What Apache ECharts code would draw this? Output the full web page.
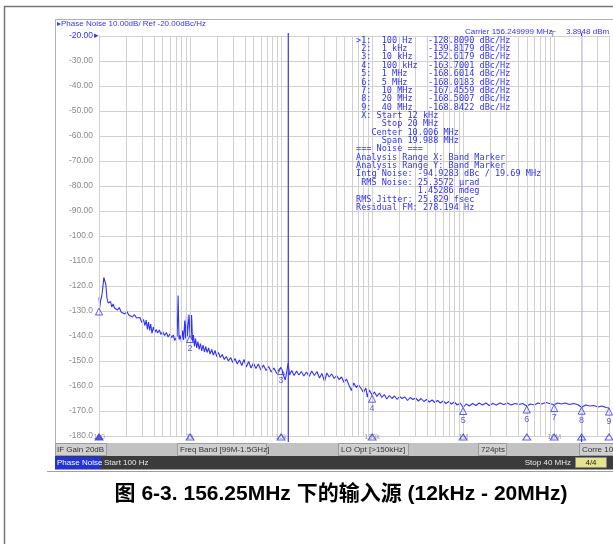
<!DOCTYPE html>
<html>
<head>
<meta charset="utf-8">
<script src="https://cdn.jsdelivr.net/npm/echarts@6/dist/echarts.min.js"></script>
<style>
html, body { margin: 0; padding: 0; background: #fff; }
#chart { width: 613px; height: 544px; }
</style>
</head>
<body>
<div id="chart"></div>
<script>
const freqHz = [
  100, 102, 104, 107, 110, 113, 116, 119, 122, 126, 130, 134, 138, 143, 148, 154, 160, 167, 175, 183,
  192, 203, 212, 222, 233, 245, 258, 270, 282, 295, 308, 320, 330, 340, 350, 360, 370, 382, 395, 410,
  425, 440, 460, 480, 500, 525, 550, 575, 600, 630, 655, 680, 705, 722, 732, 740, 748, 758, 780, 805,
  830, 850, 875, 895, 915, 935, 955, 975, 1000, 1020, 1040, 1065, 1090, 1120, 1150, 1185, 1220, 1260, 1300, 1345,
  1390, 1440, 1490, 1540, 1600, 1660, 1730, 1800, 1880, 1960, 2050, 2150, 2260, 2380, 2500, 2640, 2790, 2950, 3120, 3300,
  3490, 3700, 3920, 4150, 4400, 4680, 4970, 5290, 5630, 6000, 6400, 6830, 7300, 7800, 8350, 8950, 9500, 10000, 10500, 11100,
  11600, 11960, 12400, 13100, 13900, 14800, 15700, 16700, 17800, 19000, 20300, 21700, 23200, 24800, 26400, 28100, 30000, 31800, 33800, 36000,
  38300, 40800, 43400, 46200, 49200, 52300, 55600, 59200, 62900, 66900, 71100, 75600, 80400, 85500, 88500, 93000, 97000, 100000, 106000, 113000,
  120000, 128000, 136000, 145000, 155000, 165000, 176000, 188000, 200000, 214000, 229000, 245000, 262000, 280000, 300000, 322000, 345000, 370000, 397000, 425000,
  456000, 489000, 524000, 562000, 603000, 647000, 694000, 745000, 800000, 860000, 925000, 1000000, 1080000, 1170000, 1270000, 1380000, 1500000, 1630000, 1780000, 1940000,
  2120000, 2320000, 2540000, 2790000, 3060000, 3370000, 3710000, 4080000, 4500000, 5000000, 5500000, 6050000, 6650000, 7300000, 8050000, 8900000, 10000000, 10900000, 12000000, 13300000,
  14700000, 16300000, 18100000, 20000000, 22200000, 24600000, 27300000, 30300000, 33600000, 37000000, 40000000
]
const noiseDbc = [
  -124.5, -128.6, -125.8, -124.2, -120.8, -116.6, -116.4, -119.5, -124.6, -126.8, -127.6, -126.2, -128.4, -127.2, -128.8, -128.0, -129.6, -128.6, -130.4, -130.0,
  -131.2, -130.2, -131.6, -131.0, -132.4, -131.4, -132.8, -133.6, -132.6, -134.6, -133.4, -135.8, -133.6, -137.4, -134.4, -137.8, -135.2, -139.0, -136.4, -138.6,
  -137.4, -138.8, -137.6, -139.4, -138.2, -139.8, -138.6, -140.4, -139.2, -140.6, -139.6, -141.8, -142.6, -140.0, -131.0, -123.8, -133.0, -141.4, -139.8, -142.4,
  -137.8, -141.6, -133.8, -141.0, -131.2, -140.2, -135.6, -131.4, -139.8, -141.6, -131.6, -142.2, -139.6, -144.2, -141.0, -144.8, -142.2, -145.4, -143.0, -146.0,
  -143.6, -146.4, -144.2, -146.6, -144.8, -147.2, -145.4, -147.6, -145.8, -148.2, -146.6, -148.6, -147.4, -149.4, -148.2, -150.0, -148.6, -150.6, -149.0, -151.2,
  -149.6, -151.8, -149.4, -152.4, -150.2, -152.8, -150.8, -153.0, -151.2, -153.6, -151.6, -153.8, -152.2, -154.4, -152.8, -155.0, -153.4, -152.6, -155.2, -157.6,
  -153.8, -150.8, -155.6, -153.8, -155.8, -154.0, -155.6, -154.2, -156.0, -154.4, -156.2, -154.0, -155.8, -154.2, -156.8, -155.0, -158.2, -154.8, -156.4, -155.2,
  -157.0, -155.8, -157.4, -156.4, -158.6, -157.2, -159.6, -161.8, -158.8, -160.6, -159.6, -161.0, -162.6, -160.8, -164.4, -161.6, -162.8, -163.7, -162.4, -164.2,
  -162.8, -164.6, -163.4, -165.2, -163.8, -165.0, -164.0, -165.4, -164.2, -165.0, -164.4, -165.8, -164.6, -165.4, -164.8, -166.0, -165.0, -166.2, -165.4, -166.4,
  -165.6, -166.6, -165.8, -166.8, -166.0, -167.0, -166.2, -167.2, -166.4, -167.6, -166.8, -168.6, -167.2, -168.0, -167.0, -167.8, -166.8, -167.6, -166.8, -167.8,
  -167.0, -167.6, -166.8, -167.4, -166.8, -167.6, -167.0, -167.4, -167.0, -168.0, -167.2, -167.6, -166.8, -167.2, -166.6, -167.0, -167.5, -166.8, -167.2, -166.8,
  -167.4, -167.0, -167.4, -168.5, -167.6, -168.0, -167.8, -168.4, -168.0, -168.6, -168.8
]
const markerFreq = [100, 1000, 10000, 100000, 1000000, 5000000, 10000000, 20000000, 40000000]
const markerDbc = [-128.8090, -139.8179, -152.6179, -163.7001, -168.6014, -168.0183, -167.4559, -168.5007, -168.8422]
const markerFreqText = ['100 Hz', '1 kHz', '10 kHz', '100 kHz', '1 MHz', '5 MHz', '10 MHz', '20 MHz', '40 MHz']
const xTickLabels = ['100', '1k', '10k', '100k', '1M', '10M']
const bandEdges = [12000, 20000000]

const headerText = 'Phase Noise 10.00dB/ Ref -20.00dBc/Hz'
const bandInfo = [' X: Start 12 kHz', '     Stop 20 MHz', '   Center 10.006 MHz', '     Span 19.988 MHz']
const noiseInfo = [
  '=== Noise ===',
  'Analysis Range X: Band Marker',
  'Analysis Range Y: Band Marker',
  'Intg Noise: -94.9283 dBc / 19.69 MHz',
  ' RMS Noise: 25.3572 µrad',
  '            1.45286 mdeg',
  'RMS Jitter: 25.829 fsec',
  'Residual FM: 278.194 Hz'
]
const captionText = '图 6-3. 156.25MHz 下的输入源 (12kHz - 20MHz)'

const blue = '#3333f4'
const sans = '"Liberation Sans", Arial, sans-serif'

const trace = freqHz.map((f, i) => [f, noiseDbc[i]])

// log grid lines 1..9 per decade
const gridFreqs = []
for (let d = 100; d <= 10000000; d *= 10) {
  for (let k = 1; k <= 9; k++) {
    if (k * d <= 40000000) gridFreqs.push(k * d)
  }
}

const tableLines = markerFreq.map((f, i) =>
  (i === 0 ? '>' : ' ') + (i + 1) + ':  ' + markerFreqText[i].padEnd(9) + markerDbc[i].toFixed(4) + ' dBc/Hz'
).concat(bandInfo, noiseInfo)

function txt(x, y, text, fill, font, align) {
  return {
    type: 'text', x: x, y: y, z: 100,
    style: {
      text: text, fill: fill, font: font,
      align: align || 'left', textAlign: align || 'left',
      verticalAlign: 'middle', textVerticalAlign: 'middle'
    }
  }
}
function box(x, y, w, h, fill, stroke) {
  return {
    type: 'rect', z: 90,
    shape: { x: x, y: y, width: w, height: h },
    style: { fill: fill, stroke: stroke || null, lineWidth: 1 }
  }
}
function hline(x1, y1, x2, y2, color, w) {
  return {
    type: 'line', z: 95,
    shape: { x1: x1, y1: y1, x2: x2, y2: y2 },
    style: { stroke: color, lineWidth: w || 1 }
  }
}

const small = '8px ' + sans

const chart = echarts.init(document.getElementById('chart'))
chart.setOption({
  animation: false,
  backgroundColor: '#fff',
  grid: { left: 99, top: 36, width: 510, height: 400 },
  xAxis: {
    type: 'log',
    logBase: 10,
    min: 100,
    max: 40000000,
    axisLine: { show: false },
    axisTick: { show: false },
    splitLine: { show: false },
    axisLabel: {
      fontSize: 7,
      fontFamily: sans,
      color: '#9a9a9a',
      margin: -2,
      formatter: function (v) {
        const e = Math.log10(v)
        if (Math.abs(e - Math.round(e)) > 1e-6) return ''
        return xTickLabels[Math.round(e) - 2] || ''
      }
    }
  },
  yAxis: {
    type: 'value',
    min: -180,
    max: -20,
    interval: 10,
    axisLine: { show: true, lineStyle: { color: '#a8a8a8', width: 1 } },
    axisTick: { show: false },
    splitLine: { lineStyle: { color: '#d0d0d0', width: 1 } },
    axisLabel: {
      fontSize: 8.5,
      fontFamily: sans,
      margin: 6,
      color: function (v) {
        return Number(v) === -20 ? blue : '#8a8a8a'
      },
      formatter: function (v) {
        return v > -100 ? v.toFixed(2) : v.toFixed(1)
      }
    }
  },
  series: [
    {
      name: 'grid',
      type: 'line',
      data: [],
      z: 1,
      silent: true,
      markLine: {
        silent: true,
        symbol: ['none', 'none'],
        label: { show: false },
        lineStyle: { color: '#d0d0d0', width: 1, type: 'solid' },
        data: gridFreqs.map(f => ({ xAxis: f }))
      }
    },
    {
      name: 'Phase Noise',
      type: 'line',
      data: trace,
      z: 3,
      showSymbol: false,
      lineStyle: { color: blue, width: 1.1 }
    },
    {
      name: 'band start',
      type: 'line',
      clip: false,
      z: 4,
      showSymbol: false,
      data: [[bandEdges[0], -18.8], [bandEdges[0], -182.4]],
      lineStyle: { color: blue, width: 1.2 }
    },
    {
      name: 'band stop',
      type: 'line',
      clip: false,
      z: 4,
      showSymbol: false,
      data: [[bandEdges[1], -18.8], [bandEdges[1], -182.4]],
      lineStyle: { color: blue, width: 1.2 }
    },
    {
      name: 'markers',
      type: 'scatter',
      z: 5,
      symbol: 'triangle',
      symbolSize: [7, 7],
      symbolOffset: [0, '50%'],
      clip: false,
      itemStyle: { color: 'rgba(255,255,255,0)', borderColor: blue, borderWidth: 1 },
      label: {
        show: true,
        position: 'bottom',
        distance: 1,
        color: blue,
        fontSize: 9,
        fontFamily: sans,
        formatter: p => (p.dataIndex === 0 ? '' : String(p.dataIndex + 1))
      },
      data: markerFreq.map((f, i) => [f, markerDbc[i]])
    },
    {
      name: 'marker ticks',
      type: 'scatter',
      z: 5,
      clip: false,
      symbol: 'triangle',
      symbolSize: [8, 6],
      itemStyle: { color: 'rgba(255,255,255,0)', borderColor: blue, borderWidth: 1 },
      data: markerFreq.map((f, i) => i === 0
        ? { value: [f, -180.4], itemStyle: { color: blue } }
        : [f, -180.4])
    }
  ],
  graphic: [
    // page frame
    hline(4, 6.5, 613, 6.5, '#777', 1.5),
    hline(4.5, 6, 4.5, 544, '#777', 1.5),
    hline(55.5, 19.5, 613, 19.5, '#b0b0b0'),
    hline(55.5, 19.5, 55.5, 443, '#b0b0b0'),
    hline(47, 471.5, 613, 471.5, '#a0a0a0'),
    txt(57, 24, '▸' + headerText, blue, small),
    txt(94, 36, '▸', blue, '9px ' + sans),
    txt(465, 31.5, 'Carrier 156.249999 MHz', blue, small),
    txt(550, 31.5, '┬', blue, small),
    txt(566, 31.5, '3.8948 dBm', blue, small),
    {
      type: 'text', x: 356, y: 36.3, z: 100,
      style: {
        text: tableLines.join('\n'),
        fill: blue,
        font: '8.55px "DejaVu Sans Mono", monospace',
        lineHeight: 8.36,
        align: 'left', textAlign: 'left',
        verticalAlign: 'top', textVerticalAlign: 'top'
      }
    },
    // status bar
    box(55, 443, 560, 13, '#c2c2c2'),
    box(55.5, 443.5, 51, 12, '#cfcfcf', '#9c9c9c'),
    box(177.5, 443.5, 89, 12, '#cfcfcf', '#9c9c9c'),
    box(338.5, 443.5, 70, 12, '#cfcfcf', '#9c9c9c'),
    box(478.5, 443.5, 28, 12, '#cfcfcf', '#9c9c9c'),
    box(579.5, 443.5, 40, 12, '#cfcfcf', '#9c9c9c'),
    txt(57, 449.5, 'IF Gain 20dB', '#333', small),
    txt(180, 449.5, 'Freq Band [99M-1.5GHz]', '#333', small),
    txt(341, 449.5, 'LO Opt [>150kHz]', '#333', small),
    txt(481, 449.5, '724pts', '#333', small),
    txt(582, 449.5, 'Corre 10', '#333', small),
    box(55, 456, 560, 13.5, '#3b3b3b'),
    box(55, 457, 46, 12, '#2233dd'),
    txt(57, 463, 'Phase Noise', '#ffffff', small),
    txt(104, 463, 'Start 100 Hz', '#e6e6e6', small),
    txt(571, 463, 'Stop 40 MHz', '#e6e6e6', small, 'right'),
    box(575.5, 457.5, 31, 10, '#e4e48a', '#888'),
    txt(591, 463, '4/4', '#222', small, 'center'),
    // caption
    txt(341, 494, captionText, '#000', 'bold 21px "Liberation Sans", "Noto Sans CJK SC", sans-serif', 'center')
  ]
})

window.addEventListener('resize', () => {
  chart.resize()
})
</script>
</body>
</html>
